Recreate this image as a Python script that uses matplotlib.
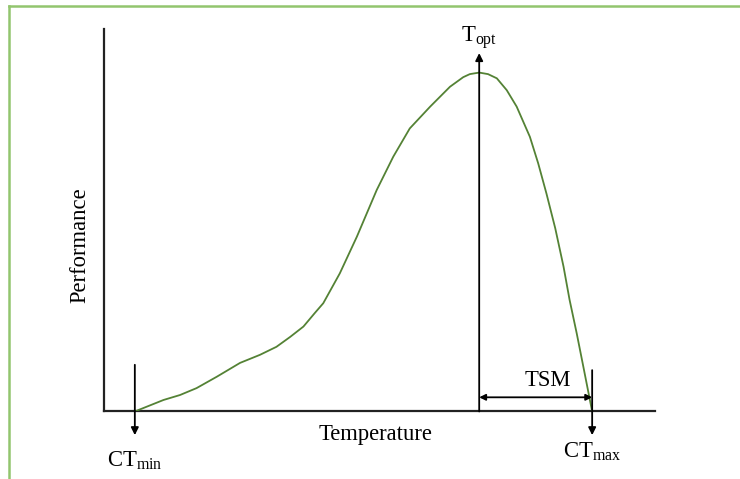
import matplotlib
matplotlib.use('Agg')
import matplotlib.pyplot as plt
from matplotlib.lines import Line2D

plt.rcParams['font.family'] = ['Liberation Serif', 'DejaVu Serif']
plt.rcParams['mathtext.fontset'] = 'custom'
plt.rcParams['mathtext.rm'] = 'Liberation Serif'
plt.rcParams['mathtext.it'] = 'Liberation Serif:italic'

# thermal performance curve
temperature = [5.6, 10.8, 13.8, 16.8, 20.5, 24.7, 28.3, 31.3, 33.8, 36.2,
               38.3, 39.8, 42.8, 45.9, 49.5, 52.5, 55.5, 59.2, 62.8, 65.2,
               66.4, 68.1, 69.7, 71.3, 73.1, 74.9, 77.3, 78.8, 80.3, 81.9,
               83.4, 84.5, 85.8, 87.0, 88.6]
performance = [0.0, 0.030, 0.043, 0.061, 0.091, 0.127, 0.148, 0.169, 0.195, 0.222,
               0.258, 0.283, 0.361, 0.457, 0.579, 0.666, 0.740, 0.797, 0.849, 0.874,
               0.882, 0.886, 0.882, 0.871, 0.840, 0.797, 0.718, 0.649, 0.570, 0.479,
               0.379, 0.292, 0.204, 0.117, 0.0]

ct_min = 5.6
t_opt = 68.1
ct_max = 88.6

curve_color = '#548235'
border_color = '#92C56E'
fs = 16.3

fig = plt.figure(figsize=(7.4, 4.79), dpi=100)
ax = fig.add_axes([0.1405, 0.141, 0.7446, 0.7985])
ax.set_xlim(0, 100)
ax.set_ylim(0, 1)
for s in ['top', 'right']:
    ax.spines[s].set_visible(False)
for s in ['left', 'bottom']:
    ax.spines[s].set_linewidth(1.6)
    ax.spines[s].set_color('#222222')
ax.set_xticks([])
ax.set_yticks([])

ax.plot(temperature, performance, color=curve_color, linewidth=1.3, zorder=3,
        solid_joinstyle='round')

arrow = dict(arrowstyle='-|>', color='black', lw=1.3, mutation_scale=11,
             shrinkA=0, shrinkB=0)

# T_opt arrow going up from the axis
ax.annotate('', xy=(t_opt, 0.937), xytext=(t_opt, 0.0),
            arrowprops=arrow, annotation_clip=False)
ax.text(t_opt, 0.978, r'T$_{\mathrm{opt}}$', ha='center', va='center',
        fontsize=fs)

# CT_min arrow
ax.annotate('', xy=(ct_min, -0.062), xytext=(ct_min, 0.122),
            arrowprops=arrow, annotation_clip=False)
ax.text(ct_min, -0.128, r'CT$_{\mathrm{min}}$', ha='center', va='center',
        fontsize=fs)

# CT_max arrow
ax.annotate('', xy=(ct_max, -0.062), xytext=(ct_max, 0.108),
            arrowprops=arrow, annotation_clip=False)
ax.text(ct_max, -0.106, r'CT$_{\mathrm{max}}$', ha='center', va='center',
        fontsize=fs)

# TSM double arrow
ax.annotate('', xy=(ct_max, 0.037), xytext=(t_opt, 0.037),
            arrowprops=dict(arrowstyle='<|-|>', color='black', lw=1.3,
                            mutation_scale=9, shrinkA=0, shrinkB=0))
ax.text((t_opt + ct_max) / 2 + 2.2, 0.082, 'TSM', ha='center', va='center',
        fontsize=fs)

ax.text(49.2, -0.061, 'Temperature', ha='center', va='center', fontsize=fs)
ax.text(-4.4, 0.435, 'Performance', ha='center', va='center', fontsize=fs,
        rotation=90)

# light green frame on top and left
fig.add_artist(Line2D([9 / 740, 1], [1 - 6 / 479, 1 - 6 / 479],
                      color=border_color, lw=1.8, transform=fig.transFigure))
fig.add_artist(Line2D([9 / 740, 9 / 740], [0, 1 - 6 / 479],
                      color=border_color, lw=1.8, transform=fig.transFigure))

fig.savefig('out.png', dpi=100)
